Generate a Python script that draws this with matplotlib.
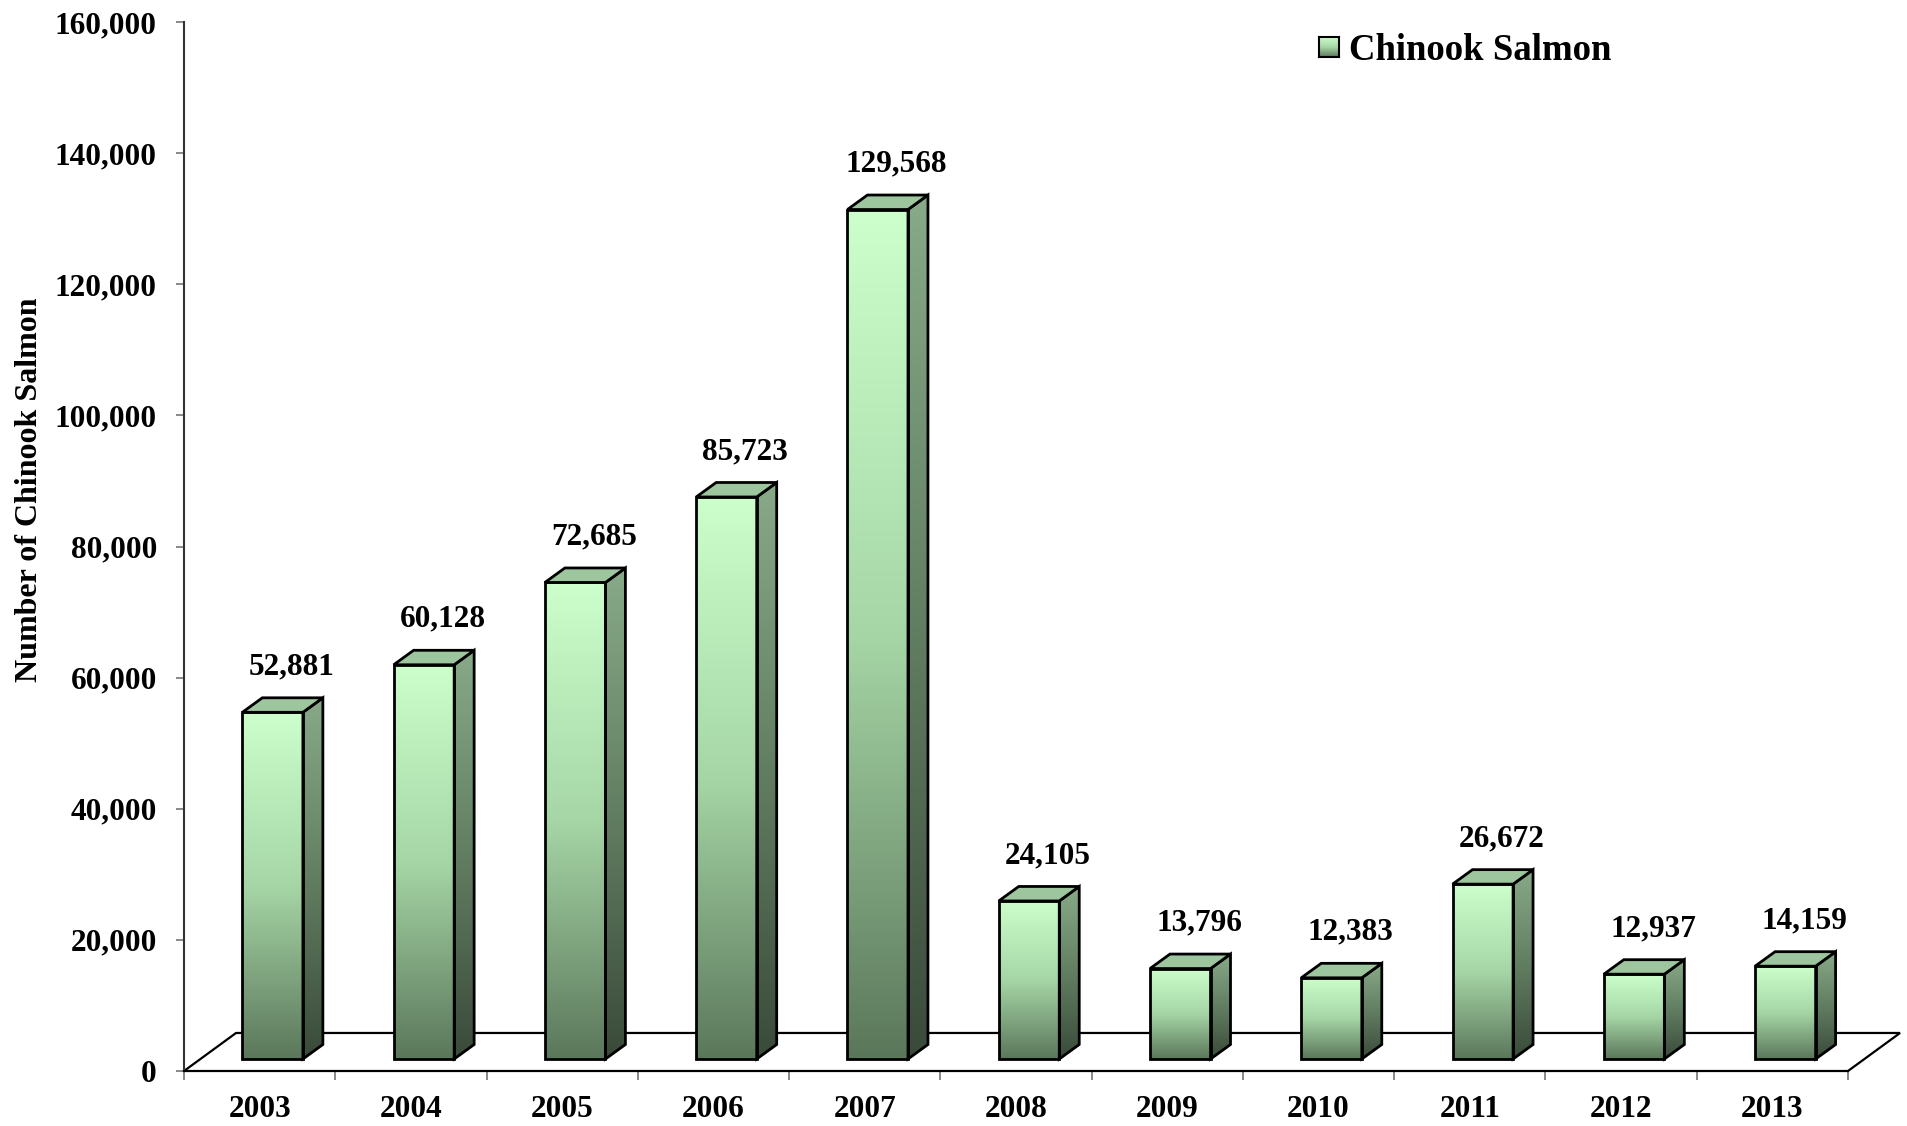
import numpy as np
import matplotlib.pyplot as plt
from matplotlib.colors import LinearSegmentedColormap
from matplotlib.patches import Polygon, Rectangle
from matplotlib.ticker import MultipleLocator, FuncFormatter

plt.rcParams['font.family'] = ['Liberation Serif', 'DejaVu Serif']
plt.rcParams['font.weight'] = 'bold'

YEARS = ['2003', '2004', '2005', '2006', '2007', '2008',
         '2009', '2010', '2011', '2012', '2013']
CHINOOK = [52881, 60128, 72685, 85723, 129568, 24105,
           13796, 12383, 26672, 12937, 14159]
SERIES_NAME = 'Chinook Salmon'
YLABEL = 'Number of Chinook Salmon'

# pseudo-3d geometry, in data units
BAR_W = 0.40        # front face width
BAR_SHIFT = 0.086   # front face centre offset from category centre
BAR_DX = 0.132      # depth of a column (x part)
BAR_DY = 2210       # depth of a column (y part)
BASE = 1830         # columns stand slightly behind the front floor edge
FLOOR_DX = 0.344
FLOOR_DY = 5800

front_cmap = LinearSegmentedColormap.from_list('front', ['#5b775b', '#a6d6a6', '#ccffcc'])
side_cmap = LinearSegmentedColormap.from_list('side', ['#3a4a3a', '#627e62', '#88aa88'])
grad = np.linspace(0, 1, 256).reshape(-1, 1)

fig = plt.figure(figsize=(19.07, 11.26), dpi=100)
ax = fig.add_axes([184 / 1907, 55 / 1126, 1664 / 1907, 1049 / 1126])

n = len(YEARS)

# floor
floor_x = [-0.5, -0.5 + FLOOR_DX, n - 0.5 + FLOOR_DX, n - 0.5]
floor_y = [0, FLOOR_DY, FLOOR_DY, 0]
ax.plot(floor_x, floor_y, color='black', lw=1.6, clip_on=False, zorder=1,
        solid_joinstyle='miter')

for i, v in enumerate(CHINOOK):
    x0 = i + BAR_SHIFT - BAR_W / 2
    x1 = x0 + BAR_W
    y0 = BASE
    y1 = BASE + v

    # front face
    ax.imshow(grad, extent=(x0, x1, y0, y1), cmap=front_cmap, origin='lower',
              aspect='auto', interpolation='bilinear', zorder=3)
    ax.add_patch(Rectangle((x0, y0), BAR_W, v, fill=False, edgecolor='black',
                           lw=2, zorder=4, joinstyle='miter'))

    # side face
    side = Polygon([(x1, y0), (x1 + BAR_DX, y0 + BAR_DY),
                    (x1 + BAR_DX, y1 + BAR_DY), (x1, y1)],
                   closed=True, facecolor='none', edgecolor='black', lw=2,
                   zorder=4, joinstyle='miter')
    ax.add_patch(side)
    im = ax.imshow(grad, extent=(x1, x1 + BAR_DX, y0, y1 + BAR_DY), cmap=side_cmap,
                   origin='lower', aspect='auto', interpolation='bilinear', zorder=3)
    im.set_clip_path(side)

    # top face
    ax.add_patch(Polygon([(x0, y1), (x1, y1), (x1 + BAR_DX, y1 + BAR_DY),
                          (x0 + BAR_DX, y1 + BAR_DY)],
                         closed=True, facecolor='#9ec69e', edgecolor='black',
                         lw=2, zorder=4, joinstyle='miter'))

    ax.text(i + BAR_SHIFT + 0.125, y1 + 5800, f'{v:,}', ha='center', va='baseline',
            fontsize=22.5, fontweight='bold', zorder=5)

ax.set_xlim(-0.5, n - 0.5)
ax.set_ylim(0, 160000)

for s in ['top', 'right']:
    ax.spines[s].set_visible(False)
ax.spines['left'].set_color('#333333')
ax.spines['left'].set_linewidth(1.5)
ax.spines['bottom'].set_color('black')
ax.spines['bottom'].set_linewidth(1.6)

ax.yaxis.set_major_locator(MultipleLocator(20000))
ax.yaxis.set_major_formatter(FuncFormatter(lambda y, _: f'{y:,.0f}'))
ax.tick_params(axis='y', length=6, width=1.3, color='#808080', pad=13.5,
               labelsize=22.5)

ax.set_xticks(np.arange(-0.5, n, 1))
ax.set_xticklabels([])
ax.set_xticks(np.arange(n), minor=True)
ax.set_xticklabels(YEARS, minor=True)
ax.tick_params(axis='x', which='major', length=6.5, width=1.3, color='#808080')
ax.tick_params(axis='x', which='minor', length=0, pad=17, labelsize=22.5)

fig.text(30 / 1907, 1 - 490 / 1126, YLABEL, rotation=90, ha='center', va='center',
         fontsize=23, fontweight='bold')

# legend
sw = fig.add_axes([1319 / 1907, 1 - 57 / 1126, 20 / 1907, 20 / 1126])
sw.imshow(grad, cmap=front_cmap, origin='lower', aspect='auto')
sw.set_xticks([])
sw.set_yticks([])
for s in sw.spines.values():
    s.set_linewidth(1.5)
fig.text(1349 / 1907, 1 - 60 / 1126, SERIES_NAME, ha='left', va='baseline',
         fontsize=26.5, fontweight='bold')

fig.savefig('out.png', dpi=100)
